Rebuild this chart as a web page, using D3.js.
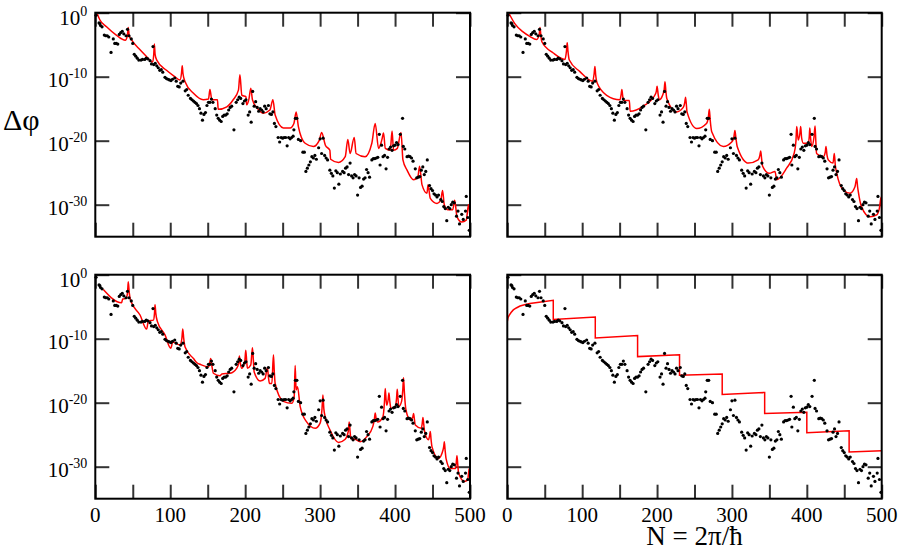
<!DOCTYPE html>
<html>
<head>
<meta charset="utf-8">
<script src="https://cdn.jsdelivr.net/npm/d3@7"></script>
<style>
body { margin: 0; background: #fff; }
svg { display: block; }
</style>
</head>
<body>
<div id="chart"></div>
<script>
// numerical data: [N, log10(delta phi)], same in all four panels
var dots = [[1,-0.4],[5,-1.6],[6,-1.7],[7,-2.0],[9,-2.2],[12,-3.5],[14,-3.6],[16,-3.6],[18,-3.8],[21,-6.2],
 [24,-4.1],[26,-4.8],[28,-4.8],[30,-4.9],[32,-3.4],[34,-3.1],[36,-2.9],[38,-3.3],[41,-3.6],[43,-2.6],
 [45,-3.6],[48,-4.1],[50,-4.8],[52,-6.5],[54,-6.8],[56,-7.1],[58,-7.4],[61,-7.4],[63,-7.3],[66,-7.3],
 [68,-7.1],[70,-7.2],[73,-7.5],[75,-8.0],[77,-5.3],[78,-8.1],[80,-7.9],[82,-8.3],[84,-8.6],[86,-9.0],
 [88,-8.9],[90,-9.3],[93,-10.1],[95,-10.3],[97,-10.4],[99,-10.5],[101,-10.6],[103,-10.4],[106,-10.2],[108,-10.7],
 [110,-11.5],[112,-11.6],[114,-11.0],[117,-10.7],[120,-12.2],[122,-12.0],[124,-12.9],[127,-13.4],[129,-13.6],[131,-13.8],
 [133,-14.0],[135,-14.2],[137,-14.5],[139,-15.0],[141,-15.7],[143,-16.8],[145,-15.9],[147,-15.6],[149,-14.5],[151,-14.0],
 [153,-14.0],[155,-13.5],[157,-14.0],[160,-15.0],[162,-16.0],[164,-16.5],[166,-16.8],[168,-17.0],[170,-16.2],[172,-16.0],
 [174,-16.0],[176,-15.8],[178,-15.2],[180,-14.8],[182,-14.6],[185,-18.3],[188,-14.0],[190,-13.6],[192,-13.2],[194,-13.4],
 [197,-14.2],[199,-13.8],[201,-13.6],[204,-16.0],[206,-15.5],[208,-17.1],[210,-12.3],[212,-14.6],[214,-13.9],[216,-14.8],
 [218,-15.4],[220,-15.0],[222,-15.2],[224,-15.5],[226,-14.6],[228,-15.0],[231,-14.5],[233,-15.8],[235,-15.9],[237,-15.5],
 [239,-17.3],[241,-17.8],[244,-19.5],[246,-20.2],[248,-19.5],[250,-19.6],[252,-19.5],[254,-19.5],[256,-20.8],[258,-19.5],
 [260,-19.7],[262,-19.5],[264,-19.3],[265,-18.3],[267,-16.5],[269,-16.5],[271,-19.8],[274,-20.0],[277,-21.8],[279,-21.8],
 [281,-24.8],[283,-24.3],[285,-23.8],[287,-23.3],[289,-22.5],[291,-22.7],[293,-22.3],[295,-22.9],[298,-21.1],[300,-19.7],
 [302,-22.0],[304,-19.6],[306,-22.3],[308,-22.7],[310,-23.0],[313,-24.6],[315,-25.1],[317,-25.5],[319,-27.4],[321,-24.7],
 [323,-25.0],[325,-26.8],[327,-25.2],[330,-24.8],[332,-25.0],[334,-24.3],[336,-24.1],[338,-25.3],[340,-23.5],[342,-25.5],
 [344,-25.8],[346,-25.3],[348,-25.5],[350,-28.5],[352,-25.8],[354,-27.3],[356,-27.1],[358,-26.0],[360,-25.8],[362,-24.5],
 [364,-25.0],[366,-25.7],[369,-23.0],[371,-22.8],[373,-22.8],[375,-22.7],[377,-22.6],[379,-19.0],[380,-23.8],[382,-20.7],
 [384,-22.5],[386,-22.3],[388,-24.4],[390,-22.6],[392,-21.3],[394,-21.0],[396,-21.5],[398,-20.8],[400,-20.7],[402,-20.3],
 [404,-20.6],[407,-19.0],[410,-16.5],[411,-20.9],[413,-21.3],[416,-22.5],[418,-22.4],[420,-22.5],[422,-22.7],[424,-23.2],
 [427,-24.4],[429,-25.8],[431,-25.7],[433,-25.6],[435,-24.6],[437,-24.1],[439,-25.3],[441,-24.8],[443,-23.0],[446,-27.0],
 [448,-27.5],[450,-27.8],[452,-28.3],[454,-28.5],[456,-28.8],[458,-28.5],[461,-29.2],[463,-29.5],[465,-30.3],[467,-30.6],
 [469,-32.5],[471,-30.4],[473,-30.6],[475,-30.0],[477,-29.6],[479,-29.7],[482,-31.8],[484,-31.0],[486,-33.0],[489,-31.5],
 [491,-32.3],[494,-31.0],[495,-28.7],[497,-32.0],[499,-34.0]];

// red theory curves, [N, log10(delta phi)]
var redTL = [[2.7,-0.2],[6,-1.1],[15,-2.2],[28,-3.5],[40,-4.3],[42.8,-3.6],[44,-2.3],[45.2,-3.6],[48.6,-4.3],[59.7,-5.8],
 [68,-6.8],[76.6,-7.7],[78,-6.5],[78.8,-4.9],[79.8,-6.5],[82,-7.4],[95,-9.0],[105,-9.9],[113,-10.5],[115,-9.5],
 [116,-8.3],[117,-9.5],[119.8,-10.8],[131,-12.6],[144,-13.6],[151,-13.5],[153,-12.0],[155.5,-13.6],[163,-13.6],[164,-15.1],
 [175.5,-14.7],[184,-13.6],[191,-12.1],[193,-9.7],[195.5,-12.9],[201,-13.1],[202,-14.4],[205,-13.5],[207.5,-11.8],[209.7,-13.6],
 [216,-14.9],[224,-15.7],[233,-15.2],[237,-13.6],[240,-16.0],[251,-18.0],[260,-18.0],[265,-17.3],[268,-15.5],[271,-17.8],
 [280,-20.4],[291,-20.9],[299,-19.9],[302,-18.7],[307,-20.7],[313,-21.5],[314,-22.9],[324.5,-23.4],[333.5,-22.5],[337,-19.8],
 [340,-22.0],[345.5,-19.5],[348,-22.0],[360,-22.5],[369,-20.4],[373.5,-17.3],[378,-21.2],[382.5,-19.8],[384.6,-18.8],[387,-21.2],
 [393.6,-21.5],[396,-18.5],[398,-21.5],[403,-21.2],[408,-18.7],[410.5,-23.0],[416,-24.6],[424.7,-26.1],[430.5,-25.6],[432.7,-24.0],
 [436,-26.9],[442.6,-28.2],[444,-26.9],[447,-29.0],[456,-29.8],[461,-29.3],[463.4,-27.8],[465.7,-30.0],[470.6,-30.8],[477,-30.8],
 [479.5,-29.3],[482.7,-31.9],[489,-32.7],[495,-32.4],[498,-30.0],[500,-32.0]];

var redTR = [[2.7,-0.2],[10,-1.7],[21,-3.0],[30,-3.7],[39,-4.2],[42.5,-3.5],[43.7,-2.3],[44.8,-3.5],[46,-4.5],[61.4,-6.3],
 [77,-7.3],[79,-6.0],[80,-4.7],[81,-6.0],[82.8,-7.4],[97,-9.2],[114,-10.7],[116,-9.5],[117,-8.4],[118,-9.7],
 [120,-11.0],[132.7,-12.9],[150.5,-13.6],[152,-12.8],[153,-12.0],[154,-12.9],[155,-13.7],[163,-13.7],[164,-15.4],[181.6,-14.6],
 [197,-12.9],[199,-12.3],[200,-11.5],[201.5,-12.8],[203,-13.6],[207,-13.0],[209.5,-12.0],[210.6,-10.8],[211.8,-12.3],[213,-13.4],
 [226,-15.5],[235,-14.8],[237,-14.0],[238,-13.2],[239,-14.2],[240,-15.5],[253,-18.1],[266,-17.3],[268.5,-16.3],[269.8,-15.1],
 [271,-16.8],[273,-18.6],[288.5,-20.9],[299.7,-20.2],[302.5,-19.5],[304,-18.4],[305.5,-19.8],[307,-20.9],[322,-23.5],[335,-23.0],
 [337.3,-22.3],[338.4,-21.6],[339.6,-22.8],[341,-24.0],[350,-25.1],[357.5,-24.8],[359.8,-26.1],[373,-24.3],[383,-22.0],[385.5,-20.0],
 [386.5,-17.8],[388.6,-19.9],[390.8,-18.8],[391.8,-17.8],[393,-19.5],[395.3,-20.4],[402,-20.4],[403.3,-19.3],[404,-18.0],[405,-19.5],
 [406.5,-20.9],[409.5,-19.5],[411,-17.7],[412,-20.0],[413,-22.0],[422,-22.5],[424.6,-21.8],[425.6,-20.9],[427,-22.3],[428.7,-23.0],
 [435,-23.5],[436.7,-22.0],[438,-23.8],[440,-25.1],[448.7,-27.7],[457.7,-28.2],[464.3,-27.2],[466.6,-25.9],[467.8,-27.2],[468.8,-28.0],
 [473,-30.3],[484.4,-31.9],[493.3,-31.6],[496.8,-30.6],[499.3,-28.8],[500,-31.5]];

var redBL = [[10.7,-2.3],[35,-4.4],[36.6,-3.8],[41,-3.7],[43,-2.8],[44,-1.1],[45.3,-2.8],[47,-4.0],[59.7,-6.3],[68.6,-8.5],
 [70.8,-7.2],[77.5,-7.1],[79,-6.0],[79.7,-4.7],[80.7,-6.0],[82.8,-7.3],[93,-9.4],[100.7,-11.5],[103.4,-10.5],[113,-11.0],
 [115.5,-10.0],[116.7,-8.5],[118,-10.0],[119.8,-11.3],[131,-13.1],[136,-13.8],[139.8,-14.0],[151,-14.4],[153,-13.6],[154,-13.1],
 [155.5,-14.2],[157.6,-15.4],[166.5,-15.8],[168.8,-15.5],[180,-15.4],[188.8,-14.6],[191.3,-13.8],[192.3,-12.7],[193.5,-13.8],[195.5,-14.6],
 [199.5,-13.5],[200.8,-11.8],[202,-13.5],[203,-14.6],[207.5,-14.1],[209.7,-11.4],[211,-13.5],[212,-15.2],[220,-16.6],[226.6,-16.2],
 [229.7,-14.5],[231,-16.0],[232.4,-17.0],[235.6,-17.0],[237.7,-12.5],[239,-15.5],[240,-17.0],[251,-19.8],[262.3,-20.1],[265.4,-19.1],
 [266.7,-14.2],[268,-18.0],[269.8,-17.5],[273.4,-20.6],[282,-23.0],[293.4,-24.0],[300,-23.2],[302.5,-21.0],[303.7,-18.8],[305,-21.0],
 [306.8,-22.2],[313.4,-24.3],[324.5,-26.2],[333.5,-25.7],[337.5,-24.5],[338.8,-23.0],[340,-24.5],[341,-25.6],[346.7,-25.7],[353.4,-26.1],
 [362.3,-25.3],[370.4,-23.7],[372.5,-22.5],[373.5,-21.6],[374.8,-22.5],[376.6,-23.0],[383.8,-22.2],[385.8,-20.0],[386.9,-17.8],[388,-19.5],
 [389,-20.4],[390.8,-19.5],[391.8,-18.5],[393,-19.8],[394.5,-20.9],[400.2,-20.6],[402,-19.3],[402.9,-17.9],[404,-19.5],[405,-20.6],
 [408.7,-19.8],[410.3,-18.0],[411.3,-16.1],[412.5,-18.5],[414.5,-21.1],[420.3,-22.7],[423.5,-22.3],[424.7,-21.7],[425.8,-22.6],[427,-23.5],
 [435,-24.0],[436.3,-23.2],[437.2,-22.3],[438.3,-23.4],[439.4,-24.5],[444.7,-25.8],[446,-25.2],[447,-24.5],[448,-25.7],[449.3,-26.9],
 [458,-28.7],[464,-27.4],[465,-26.8],[465.7,-26.1],[466.8,-27.4],[468,-28.7],[473.7,-30.3],[480.4,-30.3],[481.7,-29.3],[482.6,-28.3],
 [483.7,-29.7],[484.8,-31.0],[492.4,-32.3],[496.8,-32.1],[499,-30.3],[500,-32.3]];

var redBR = [[0,-7.3],[1,-6.7],[2.7,-6.3],[5,-5.9],[8,-5.5],[12,-5.2],[17,-4.9],[23,-4.7],[30,-4.5],[45,-4.25],[61.4,-4.0],
 [61.4,-7.0],[117.5,-6.6],[117.5,-9.9],[174,-9.5],[174,-12.8],[230,-12.5],[230,-15.7],[287,-15.5],[287,-18.7],
 [343.7,-18.4],[343.7,-21.7],[400,-21.5],[400,-24.7],[456.5,-24.4],[456.5,-27.7],[500,-27.5]];

var xTicks = [0, 50, 100, 150, 200, 250, 300, 350, 400, 450, 500];
var xLabels = [0, 100, 200, 300, 400, 500];
var yDecades = [0, -10, -20, -30];

var serif = "'Liberation Serif', 'Times New Roman', Times, serif";

var svg = d3.select("#chart").append("svg")
    .attr("width", 900)
    .attr("height", 553);

var panels = [
    {id: "tl", red: redTL, x0: 95.3, x1: 470, y0: 12.7, y1: 236.7, left: true, bottom: false, curve: d3.curveMonotoneX},
    {id: "tr", red: redTR, x0: 507.3, x1: 881.7, y0: 12.7, y1: 236.7, left: false, bottom: false, curve: d3.curveMonotoneX},
    {id: "bl", red: redBL, x0: 95.3, x1: 470, y0: 274.7, y1: 498.7, left: true, bottom: true, curve: d3.curveMonotoneX},
    {id: "br", red: redBR, x0: 507.3, x1: 881.7, y0: 274.7, y1: 498.7, left: false, bottom: true, curve: d3.curveLinear}
];

var defs = svg.append("defs");

panels.forEach(function(p) {
    var x = d3.scaleLinear().domain([0, 500]).range([p.x0, p.x1]);
    var y = d3.scaleLog().domain([1e-35, 1]).range([p.y1, p.y0]);
    var g = svg.append("g");

    defs.append("clipPath").attr("id", "clip-" + p.id)
	.append("rect")
	.attr("x", p.x0).attr("y", p.y0)
	.attr("width", p.x1 - p.x0).attr("height", p.y1 - p.y0);

    // tick marks, all pointing inward
    var yTickVals = yDecades.map(function(e) { return Math.pow(10, e); });
    var axes = [
	[d3.axisBottom(x).tickValues(xTicks), "translate(0," + p.y1 + ")"],
	[d3.axisTop(x).tickValues(xTicks), "translate(0," + p.y0 + ")"],
	[d3.axisLeft(y).tickValues(yTickVals), "translate(" + p.x0 + ",0)"],
	[d3.axisRight(y).tickValues(yTickVals), "translate(" + p.x1 + ",0)"]
    ];
    axes.forEach(function(a) {
	var ax = g.append("g")
	    .attr("transform", a[1])
	    .call(a[0].tickSize(-14).tickSizeOuter(0).tickFormat(""));
	ax.select(".domain").remove();
	ax.selectAll("line").attr("stroke", "#333").attr("stroke-width", 2);
    });

    // red curve
    g.append("path")
	.datum(p.red)
	.attr("clip-path", "url(#clip-" + p.id + ")")
	.attr("fill", "none")
	.attr("stroke", "#ff0000")
	.attr("stroke-width", 1.5)
	.attr("d", d3.line()
	      .x(function(d) { return x(d[0]); })
	      .y(function(d) { return y(Math.pow(10, d[1])); })
	      .curve(p.curve));

    // black dots
    g.selectAll(".dot")
	.data(dots)
	.enter().append("circle")
	.attr("class", "dot")
	.attr("cx", function(d) { return x(d[0]); })
	.attr("cy", function(d) { return y(Math.pow(10, d[1])); })
	.attr("r", 1.6)
	.attr("fill", "#000");

    // frame
    g.append("rect")
	.attr("x", p.x0).attr("y", p.y0)
	.attr("width", p.x1 - p.x0).attr("height", p.y1 - p.y0)
	.attr("fill", "none")
	.attr("stroke", "#000")
	.attr("stroke-width", 2);

    if (p.left) {
	yDecades.forEach(function(e) {
	    var t = g.append("text")
		.attr("x", p.x0 - 8)
		.attr("y", y(Math.pow(10, e)) + (e === 0 ? 12 : 10.5))
		.attr("text-anchor", "end")
		.attr("font-family", serif)
		.attr("font-size", 21);
	    t.append("tspan").text("10");
	    t.append("tspan").attr("dy", -9).attr("font-size", 14).text(e === 0 ? "0" : "-" + (-e));
	});
    }

    if (p.bottom) {
	g.selectAll(".xl")
	    .data(xLabels)
	    .enter().append("text")
	    .attr("class", "xl")
	    .attr("x", function(d) { return x(d); })
	    .attr("y", p.y1 + 23.5)
	    .attr("text-anchor", "middle")
	    .attr("font-family", serif)
	    .attr("font-size", 21)
	    .text(function(d) { return d; });
    }
});

svg.append("text")
    .attr("x", 3)
    .attr("y", 130)
    .attr("font-family", serif)
    .attr("font-size", 30)
    .text("Δφ");

svg.append("text")
    .attr("x", 694.5)
    .attr("y", 545)
    .attr("text-anchor", "middle")
    .attr("font-family", serif)
    .attr("font-size", 27)
    .text("N = 2π/ħ");
</script>
</body>
</html>
